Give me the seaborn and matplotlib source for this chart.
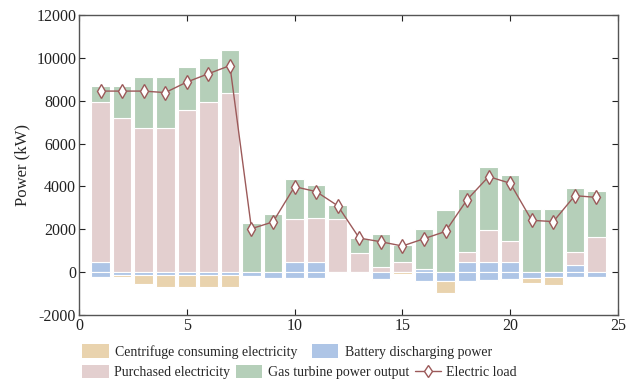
import numpy as np
import pandas as pd
import matplotlib
matplotlib.use("Agg")
import matplotlib.pyplot as plt
import seaborn as sns
from matplotlib.patches import Patch
from matplotlib.lines import Line2D

hours = list(range(1, 25))
battery_dis = [480, 0, 0, 0, 0, 0, 0, 0, 0, 480, 480, 0, 0, 0, 0, 130, 0, 463, 470, 470, 0, 0, 353, 0]
purchased = [7450, 7180, 6720, 6720, 7570, 7960, 8380, 0, 0, 2020, 2050, 2490, 910, 220, 455, 0,
             0, 455, 1480, 980, 0, 0, 577, 1640]
gas_turbine = [770, 1520, 2370, 2380, 2010, 2040, 2000, 2310, 2730, 1850, 1560, 640, 690, 1580, 825, 1900,
               2890, 2962, 2980, 3090, 2940, 2940, 2980, 2130]
battery_ch = [-210, -150, -150, -150, -150, -150, -150, -200, -250, -260, -260, 0, 0, -330, 0, -430,
              -400, -390, -350, -310, -290, -245, -225, -210]
centrifuge = [-30, -60, -400, -530, -530, -530, -560, -25, -90, -40, -40, 0, 0, -30, -90, -40,
              -550, -60, -50, -50, -200, -345, -35, -35]
electric_load = [8450, 8450, 8450, 8380, 8870, 9260, 9640, 2030, 2345, 3990, 3760, 3100, 1590, 1420,
                 1220, 1560, 1900, 3380, 4460, 4150, 2420, 2360, 3570, 3490]

legend_labels = ["Centrifuge consuming electricity", "Battery discharging power",
                 "Purchased electricity", "Gas turbine power output", "Electric load"]

c_orange = "#e9d3ae"
c_blue = "#aec5e6"
c_pink = "#e3cfcf"
c_green = "#b5cfb9"
c_line = "#9c5a5a"

sns.set_theme(style="ticks")
plt.rcParams["font.family"] = ["Liberation Serif", "DejaVu Serif"]
plt.rcParams["axes.unicode_minus"] = False

fig = plt.figure(figsize=(6.27, 3.87), dpi=100)
ax = fig.add_axes([0.126, 0.186, 0.9856 - 0.126, 0.9612 - 0.186])

x = np.array(hours)
bd = np.array(battery_dis)
pu = np.array(purchased)
gt = np.array(gas_turbine)
bc = np.array(battery_ch)
ce = np.array(centrifuge)

w = 0.86
kw = dict(width=w, edgecolor="white", linewidth=0.8)
ax.bar(x, bd, color=c_blue, **kw)
ax.bar(x, pu, bottom=bd, color=c_pink, **kw)
ax.bar(x, gt, bottom=bd + pu, color=c_green, **kw)
ax.bar(x, bc, color=c_blue, **kw)
ax.bar(x, ce, bottom=bc, color=c_orange, **kw)

df = pd.DataFrame({"hour": hours, "load": electric_load})
sns.lineplot(data=df, x="hour", y="load", ax=ax, color=c_line, lw=1.0, marker="d",
             markersize=7, markerfacecolor="white", markeredgecolor=c_line, markeredgewidth=1.0,
             legend=False)

ax.set_xlim(0, 25)
ax.set_ylim(-2000, 12000)
ax.set_xticks([0, 5, 10, 15, 20, 25])
ax.set_yticks(np.arange(-2000, 12001, 2000))
ax.set_xlabel("")
ax.set_ylabel("Power (kW)", fontsize=12)
ax.tick_params(direction="in", length=4, width=0.8, top=True, right=True, labelsize=11.5,
               colors="#222222", pad=2)
for s in ax.spines.values():
    s.set_visible(True)
    s.set_color("#555555")
    s.set_linewidth(1.0)

h1 = [Patch(facecolor=c_orange, edgecolor="none"), Patch(facecolor=c_blue, edgecolor="none")]
h2 = [Patch(facecolor=c_pink, edgecolor="none"), Patch(facecolor=c_green, edgecolor="none"),
      Line2D([], [], color=c_line, lw=1.0, marker="d", markersize=6, markerfacecolor="white",
             markeredgecolor=c_line)]
leg1 = fig.legend(h1, legend_labels[:2], loc="center left", bbox_to_anchor=(0.131, 0.092), ncol=2,
                  frameon=False, fontsize=10, handlelength=1.9, handleheight=1.1, handletextpad=0.5,
                  columnspacing=1.0, borderpad=0, borderaxespad=0)
leg2 = fig.legend(h2, legend_labels[2:], loc="center left", bbox_to_anchor=(0.131, 0.038), ncol=3,
                  frameon=False, fontsize=10, handlelength=1.9, handleheight=1.1, handletextpad=0.4,
                  columnspacing=0.4, borderpad=0, borderaxespad=0)

fig.savefig("out.png", dpi=100)
